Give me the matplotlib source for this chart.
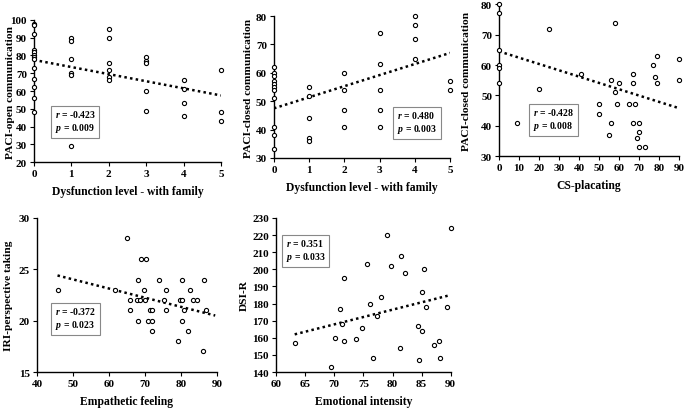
"""Five correlation scatter panels with dotted linear trend lines."""

import matplotlib

matplotlib.use("Agg")
import matplotlib.pyplot as plt

plt.rcParams["font.family"] = ["Liberation Serif", "DejaVu Serif"]
plt.rcParams["font.weight"] = "bold"
plt.rcParams["mathtext.fontset"] = "custom"
plt.rcParams["mathtext.it"] = "Liberation Serif:italic:bold"
plt.rcParams["mathtext.rm"] = "Liberation Serif:bold"

# Panel A: dysfunction level vs PACI-open communication
a_x = [0] * 13 + [1] * 6 + [2] * 6 + [3] * 5 + [4] * 4 + [5] * 3
a_y = [98, 97, 92, 83, 82, 80, 79, 78, 73, 67, 62, 56, 48,
       90, 88, 78, 70, 69, 29,
       95, 90, 76, 72, 68, 66,
       79, 77, 76, 60, 49,
       66, 61, 53, 46,
       72, 48, 43]
a_trend_x = [0, 5]
a_trend_y = [77.5, 57.5]

# Panel B: dysfunction level vs PACI-closed communication
b_x = [0] * 11 + [1] * 5 + [2] * 4 + [3] * 5 + [4] * 4 + [5] * 2
b_y = [62, 60, 59, 57, 56, 55, 54, 51, 41, 38, 33,
       55, 52, 44, 37, 36,
       60, 54, 47, 41,
       74, 63, 54, 47, 41,
       80, 77, 72, 65,
       57, 54]
b_trend_x = [0, 5]
b_trend_y = [47.5, 67]

# Panel C: CS-placating vs PACI-closed communication
c_x = [0, 0, 0, 0, 0, 0, 9, 20, 25, 41, 50, 50, 55, 56, 56, 58, 58, 59, 60,
       65, 67, 67, 67, 68, 69, 70, 70, 70, 73, 77, 78, 79, 79, 90, 90]
c_y = [80, 77, 65, 60, 59, 54, 41, 52, 72, 57, 47, 44, 37, 55, 41, 74, 51, 47, 54,
       47, 57, 54, 41, 47, 36, 41, 38, 33, 33, 60, 56, 63, 54, 62, 55]
c_trend_x = [0, 89]
c_trend_y = [64.5, 46]

# Panel D: empathetic feeling vs IRI-perspective taking
d_x = [45.9, 61.7, 65.0, 65.8, 65.8, 67.7, 68.0, 68.0, 68.5, 69.0, 69.7, 70.0,
       70.3, 70.8, 71.4, 72.0, 72.0, 72.0, 73.8, 75.2, 75.8, 75.8, 79.1, 79.7,
       80.4, 80.4, 80.4, 80.8, 81.9, 82.4, 83.4, 84.5, 86.1, 86.5, 86.9]
d_y = [23, 23, 28, 22, 21, 22, 24, 20, 22, 26, 23, 22,
       26, 20, 21, 21, 20, 19, 24, 22, 23, 21, 18, 22,
       24, 22, 20, 21, 19, 23, 22, 22, 17, 24, 21]
d_trend_x = [45.7, 89.5]
d_trend_y = [24.4, 20.5]

# Panel E: emotional intensity vs DSI-R
e_x = [63.2, 69.4, 70.1, 71.0, 71.3, 71.7, 71.7, 73.7, 74.7, 75.7, 76.1, 76.7,
       77.4, 78.1, 79.0, 79.7, 81.3, 81.4, 82.1, 84.4, 84.5, 85.0, 85.1, 85.4,
       85.7, 87.1, 88.0, 88.1, 89.4, 90.1]
e_y = [157, 143, 160, 177, 168, 158, 195, 159, 166, 203, 180, 148,
       173, 184, 220, 202, 154, 208, 198, 167, 147, 187, 164, 200,
       178, 156, 158, 148, 178, 224]
e_trend_x = [63.2, 90]
e_trend_y = [162, 185]

panels = [
    dict(x=a_x, y=a_y, tx=a_trend_x, ty=a_trend_y, stats=("-0.423", "0.009"),
         xlabel="Dysfunction level - with family", ylabel="PACI-open communication",
         xlim=(0, 5), ylim=(20, 100), xticks=range(0, 6), yticks=range(20, 101, 10),
         rect=(0.0496, 0.6024, 0.273, 0.3464), box=(0.11, 0.38), ylab_x=-0.10),
    dict(x=b_x, y=b_y, tx=b_trend_x, ty=b_trend_y, stats=("0.480", "0.003"),
         xlabel="Dysfunction level - with family", ylabel="PACI-closed communication",
         xlim=(0, 5), ylim=(30, 80), xticks=range(0, 6), yticks=range(30, 81, 10),
         rect=(0.400, 0.6122, 0.257, 0.3463), box=(0.70, 0.345), ylab_x=-0.12),
    dict(x=c_x, y=c_y, tx=c_trend_x, ty=c_trend_y, stats=("-0.428", "0.008"),
         xlabel="CS-placating", ylabel="PACI-closed communication",
         xlim=(0, 90), ylim=(30, 80), xticks=range(0, 91, 10), yticks=range(30, 81, 10),
         rect=(0.7285, 0.617, 0.2625, 0.370), box=(0.19, 0.33), ylab_x=-0.155),
    dict(x=d_x, y=d_y, tx=d_trend_x, ty=d_trend_y, stats=("-0.372", "0.023"),
         xlabel="Empathetic feeling", ylabel="IRI-perspective taking",
         xlim=(40, 90), ylim=(15, 30), xticks=range(40, 91, 10), yticks=range(15, 31, 5),
         rect=(0.054, 0.0902, 0.2628, 0.3758), box=(0.10, 0.435), ylab_x=-0.133),
    dict(x=e_x, y=e_y, tx=e_trend_x, ty=e_trend_y, stats=("0.351", "0.033"),
         xlabel="Emotional intensity", ylabel="DSI-R",
         xlim=(60, 90), ylim=(140, 230), xticks=range(60, 91, 5), yticks=range(140, 231, 10),
         rect=(0.403, 0.0902, 0.255, 0.3758), box=(0.057, 0.877), ylab_x=-0.154),
]

fig = plt.figure(figsize=(6.85, 4.10), dpi=100)
for p in panels:
    ax = fig.add_axes(p["rect"])
    ax.scatter(p["x"], p["y"], s=9, facecolors="white", edgecolors="black",
               linewidths=0.8, zorder=3, clip_on=False)
    ax.plot(p["tx"], p["ty"], color="black", linestyle=(0, (1, 1.3)), linewidth=1.8,
            zorder=2)
    ax.set_xlim(*p["xlim"])
    ax.set_ylim(*p["ylim"])
    ax.set_xticks(list(p["xticks"]))
    ax.set_yticks(list(p["yticks"]))
    for side in ("top", "right"):
        ax.spines[side].set_visible(False)
    for side in ("left", "bottom"):
        ax.spines[side].set_linewidth(1.0)
    ax.tick_params(direction="out", length=3, width=0.8, labelsize=8, pad=2)
    for lab in ax.get_xticklabels() + ax.get_yticklabels():
        lab.set_fontweight("bold")
    ax.set_xlabel(p["xlabel"], fontsize=8.4, fontweight="bold", labelpad=5)
    ax.set_ylabel(p["ylabel"], fontsize=8.2, fontweight="bold")
    ax.yaxis.set_label_coords(p["ylab_x"], 0.5)
    r, pv = p["stats"]
    ax.text(p["box"][0], p["box"][1], f"$r$ = {r}\n$p$ = {pv}", transform=ax.transAxes,
            ha="left", va="top", fontsize=7, fontweight="bold", linespacing=1.25,
            bbox=dict(boxstyle="square,pad=0.4", facecolor="white", edgecolor="#888888",
                      linewidth=0.8), zorder=4)

fig.savefig("out.png", dpi=100)
